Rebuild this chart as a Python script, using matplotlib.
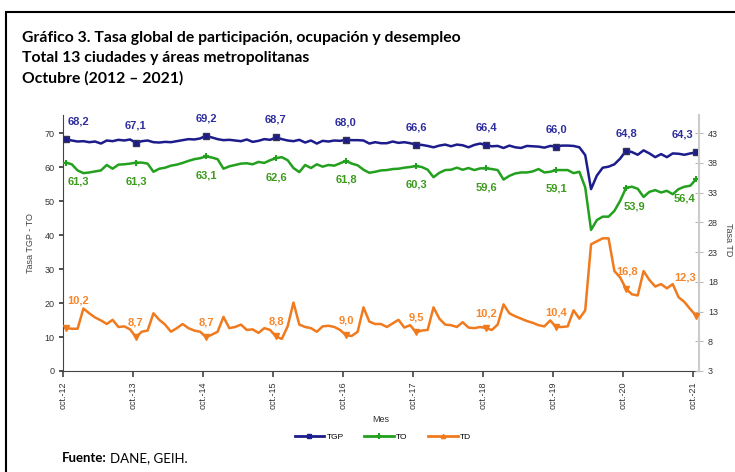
import numpy as np
import matplotlib
matplotlib.use("Agg")
import matplotlib.pyplot as plt
from matplotlib.patches import Rectangle
from matplotlib.lines import Line2D

# monthly series, oct-12 .. oct-21 (109 months)
tgp = [68.2, 67.8, 67.5, 67.6, 67.3, 67.5, 66.9, 67.8, 67.6, 68.0, 67.8, 68.1, 67.1,
       67.6, 67.8, 67.3, 67.2, 67.4, 67.3, 67.6, 67.9, 68.2, 68.1, 68.4, 69.2,
       68.7, 68.2, 67.9, 68.0, 67.8, 67.6, 68.1, 67.4, 67.7, 68.2, 68.0, 68.7,
       68.2, 67.8, 67.6, 68.0, 67.2, 67.8, 66.9, 67.7, 67.5, 67.8, 67.7, 68.0,
       67.9, 67.9, 67.8, 66.9, 67.3, 67.0, 67.0, 67.5, 67.1, 67.3, 67.0, 66.6,
       66.5, 66.2, 65.8, 66.3, 66.6, 66.1, 66.6, 66.4, 65.8, 66.5, 66.9, 66.4,
       66.1, 66.2, 65.6, 66.3, 65.8, 65.6, 66.2, 66.1, 66.0, 65.7, 66.2, 66.0,
       66.3, 66.3, 66.2, 65.8, 63.5, 53.5, 57.5, 59.8, 60.1, 60.8, 62.5, 64.8,
       64.4, 63.6, 64.9, 64.0, 62.9, 63.8, 62.9, 64.0, 63.9, 63.6, 64.0, 64.3]
to = [61.3, 60.8, 59.0, 58.2, 58.4, 58.7, 59.0, 60.6, 59.5, 60.7, 60.8, 61.0, 61.3,
      61.3, 61.0, 58.6, 59.5, 59.8, 60.4, 60.7, 61.2, 61.8, 62.3, 62.6, 63.1,
      62.8, 62.3, 59.5, 60.2, 60.6, 61.0, 61.1, 60.8, 61.5, 61.2, 62.0, 62.6,
      62.9, 62.0, 59.7, 58.5, 60.6, 59.7, 60.8, 60.1, 60.6, 60.4, 61.1, 61.8,
      61.0, 60.5, 59.2, 58.3, 58.6, 59.0, 59.1, 59.4, 59.5, 59.8, 60.0, 60.3,
      60.0, 59.2, 57.0, 58.3, 59.1, 59.2, 59.8, 59.2, 59.7, 59.1, 59.6, 59.6,
      59.4, 59.1, 56.3, 57.4, 58.1, 58.4, 58.4, 58.7, 59.4, 58.4, 58.6, 59.1,
      59.1, 59.1, 58.2, 58.6, 54.0, 41.5, 44.4, 45.4, 45.4, 47.1, 50.1, 53.9,
      54.2, 53.6, 51.2, 52.7, 53.2, 52.5, 53.0, 52.0, 53.5, 54.2, 54.5, 56.4]
td = [10.2, 10.1, 10.1, 13.5, 12.7, 12.0, 11.5, 10.9, 11.6, 10.4, 10.5, 10.0, 8.7,
      9.6, 9.8, 12.7, 11.6, 10.8, 9.6, 10.2, 10.9, 10.2, 9.8, 9.6, 8.7,
      9.1, 9.6, 12.1, 10.2, 10.4, 10.8, 9.9, 10.0, 9.4, 10.2, 9.9, 8.8,
      8.4, 10.5, 14.5, 10.8, 10.4, 10.2, 9.6, 10.5, 10.6, 10.4, 9.9, 9.0,
      8.9, 9.6, 13.7, 11.3, 10.9, 10.9, 10.4, 11.0, 11.6, 10.3, 10.7, 9.5,
      9.8, 9.9, 13.7, 11.8, 10.8, 10.7, 10.4, 11.2, 10.3, 10.2, 10.4, 10.2,
      9.9, 10.8, 14.2, 12.7, 12.2, 11.8, 11.4, 11.1, 10.7, 10.5, 11.5, 10.4,
      10.4, 10.5, 13.2, 11.8, 13.2, 24.3, 24.8, 25.3, 25.3, 19.8, 18.7, 16.8,
      15.9, 15.7, 19.8, 18.3, 17.2, 17.6, 16.9, 17.6, 15.4, 14.6, 13.4, 12.3]
tick_labels = ["oct.-12", "oct.-13", "oct.-14", "oct.-15", "oct.-16",
               "oct.-17", "oct.-18", "oct.-19", "oct.-20", "oct.-21"]

c_tgp = "#1c1c8c"
c_to = "#22a01e"
c_td = "#f07a1e"
c_tgp_lab = "#2e2e9e"
c_to_lab = "#3c9a1c"
c_td_lab = "#f7862a"

plt.rcParams["font.family"] = ["Liberation Sans", "DejaVu Sans"]

fig = plt.figure(figsize=(7.35, 4.72), dpi=100)
fig.patches.append(Rectangle((6 / 735, -0.1), 1.2, (472 - 12) / 472 + 0.1,
                             transform=fig.transFigure, fill=False,
                             edgecolor="black", lw=1.5))

title = ["Gráfico 3. Tasa global de participación, ocupación y desempleo",
         "Total 13 ciudades y áreas metropolitanas",
         "Octubre (2012 – 2021)"]
for i, line in enumerate(title):
    fig.text(22 / 735, 1 - (38 + 20 * i) / 472, line, fontsize=11.3,
             fontweight="bold", family="Lato", va="center", ha="left")

ax = fig.add_axes([63 / 735, (472 - 371) / 472, 636 / 735, 256 / 472])
ax2 = ax.twinx()

n = len(tgp)
x = np.arange(n) + 0.5
octs = np.arange(0, n, 12)

ax.plot(x, tgp, color=c_tgp, lw=1.8, zorder=3)
ax.plot(x[octs], np.array(tgp)[octs], ls="none", marker="s", ms=4,
        color=c_tgp, mec="#333355", zorder=4)
ax.plot(x, to, color=c_to, lw=1.8, zorder=3)
ax.plot(x[octs], np.array(to)[octs], ls="none", marker="+", ms=5, mew=1.5,
        color=c_to, zorder=4)
ax2.plot(x, td, color=c_td, lw=1.8, zorder=3)
ax2.plot(x[octs], np.array(td)[octs], ls="none", marker="v", ms=4,
         color=c_td, zorder=4)

ax.set_xlim(0, n)
ax.set_ylim(0, 75.3)
ax2.set_ylim(3, 3 + 75.3 / 1.75)
ax.set_yticks(range(0, 71, 10))
ax2.set_yticks(range(3, 44, 5))
ax.set_xticks(octs)
ax.set_xticklabels(tick_labels, rotation=90, fontsize=6.5, color="#333333")

for a in (ax, ax2):
    a.spines["top"].set_visible(False)
ax.spines["right"].set_visible(False)
ax.spines["left"].set_color("#444444")
ax.spines["bottom"].set_color("#444444")
ax2.spines["left"].set_visible(False)
ax2.spines["bottom"].set_visible(False)
ax2.spines["right"].set_color("#cccccc")
ax2.spines["right"].set_linewidth(1.5)
ax.tick_params(axis="y", labelsize=6.5, colors="#333333", length=3, width=1.2,
               pad=3)
ax.tick_params(axis="x", length=4, width=1.2, color="#444444")
ax2.tick_params(axis="y", labelsize=6.5, colors="#333333", direction="inout",
                length=6, color="#bbbbbb")

ax.set_ylabel("Tasa TGP - TO", fontsize=6.5, color="#444444", labelpad=7)
ax.set_xlabel("Mes", fontsize=6.5, color="#333333", labelpad=4)
fig.text(728 / 735, 1 - 240 / 472, "Tasa TD", fontsize=6.5, color="#444444",
         rotation=270, ha="center", va="center")

# data labels at each October
last = len(octs) - 1
for k, i in enumerate(octs):
    dx = 0
    if k == 0:
        dx = 9
    elif k == last:
        dx = -10
    ax.annotate(f"{tgp[i]:.1f}".replace(".", ","), (x[i], tgp[i]),
                xytext=(dx, 9), textcoords="offset points", ha="center",
                va="bottom", fontsize=8, fontweight="bold", color=c_tgp_lab)
    tdx = dx
    if k == last - 1:
        tdx = 6
    elif k == last:
        tdx = -8
    ax.annotate(f"{to[i]:.1f}".replace(".", ","), (x[i], to[i]),
                xytext=(tdx, -10), textcoords="offset points", ha="center",
                va="top", fontsize=8, fontweight="bold", color=c_to_lab)
    dy = 7
    ddx = dx
    if k == 0:
        dy = 16
    elif k == last - 1:
        dy, ddx = 9, 1
    elif k == last:
        dy, ddx = 24, -8
    ax2.annotate(f"{td[i]:.1f}".replace(".", ","), (x[i], td[i]),
                 xytext=(ddx, dy), textcoords="offset points", ha="center",
                 va="bottom", fontsize=8, fontweight="bold", color=c_td_lab)

# legend
handles = [Line2D([], [], color=c_tgp, lw=2, marker="s", ms=3),
           Line2D([], [], color=c_to, lw=2, marker="+", ms=4, mew=1.5),
           Line2D([], [], color=c_td, lw=2, marker="^", ms=3)]
fig.legend(handles, ["TGP", "TO", "TD"], loc="center",
           bbox_to_anchor=(383 / 735, 1 - 437 / 472), ncol=3, frameon=False,
           fontsize=6, handlelength=3.5, columnspacing=2.5, handletextpad=0.3)

fig.text(62 / 735, 1 - 458 / 472, "Fuente:", fontsize=9.5, fontweight="bold",
         family="Lato", va="center")
fig.text(110 / 735, 1 - 458 / 472, "DANE, GEIH.", fontsize=9.5,
         family="Lato", va="center")

fig.savefig("out.png", dpi=100)
